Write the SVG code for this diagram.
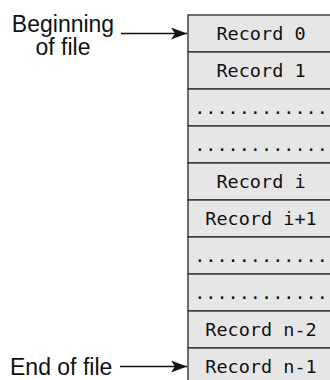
<svg xmlns="http://www.w3.org/2000/svg" width="330" height="380" viewBox="0 0 330 380">
<style>
.rec{fill:#e6e6e6;stroke:#333;stroke-width:1.4}
.rt{font-family:"DejaVu Sans Mono",monospace;font-size:18.5px;fill:#111;text-anchor:middle}
.lb{font-family:"Liberation Sans",Arial,sans-serif;font-size:23px;fill:#111}
.con{stroke:#111;stroke-width:1.3;fill:none}
</style>
<defs>
<marker id="ah" viewBox="0 0 16 12" refX="16" refY="6" markerWidth="16" markerHeight="12" markerUnits="userSpaceOnUse" orient="auto">
<path d="M0,0 L16,6 L0,12 L4,6 Z" fill="#111"/>
</marker>
</defs>
<g id="rec0"><rect class="rec" x="188" y="15" width="150" height="37"/><text class="rt" x="261" y="40">Record 0</text></g>
<g id="rec1"><rect class="rec" x="188" y="52" width="150" height="37"/><text class="rt" x="261" y="77">Record 1</text></g>
<g id="dots1"><rect class="rec" x="188" y="89" width="150" height="37"/><text class="rt" x="261" y="114">............</text></g>
<g id="dots2"><rect class="rec" x="188" y="126" width="150" height="37"/><text class="rt" x="261" y="151">............</text></g>
<g id="reci"><rect class="rec" x="188" y="163" width="150" height="37"/><text class="rt" x="261" y="188">Record i</text></g>
<g id="reci1"><rect class="rec" x="188" y="200" width="150" height="37"/><text class="rt" x="261" y="225">Record i+1</text></g>
<g id="dots3"><rect class="rec" x="188" y="237" width="150" height="37"/><text class="rt" x="261" y="262">............</text></g>
<g id="dots4"><rect class="rec" x="188" y="274" width="150" height="37"/><text class="rt" x="261" y="299">............</text></g>
<g id="recn2"><rect class="rec" x="188" y="311" width="150" height="37"/><text class="rt" x="261" y="336">Record n-2</text></g>
<g id="recn1"><rect class="rec" x="188" y="348" width="150" height="37"/><text class="rt" x="261" y="373">Record n-1</text></g>
<g id="begin"><text class="lb" x="63" y="31.5" text-anchor="middle">Beginning</text><text class="lb" x="63" y="55" text-anchor="middle">of file</text></g>
<g id="end"><text class="lb" x="10" y="375">End of file</text></g>
<g id="connectors">
<line class="con" x1="121" y1="33.5" x2="187" y2="33.5" marker-end="url(#ah)"/>
<line class="con" x1="120" y1="366.5" x2="187" y2="366.5" marker-end="url(#ah)"/>
</g>
</svg>
